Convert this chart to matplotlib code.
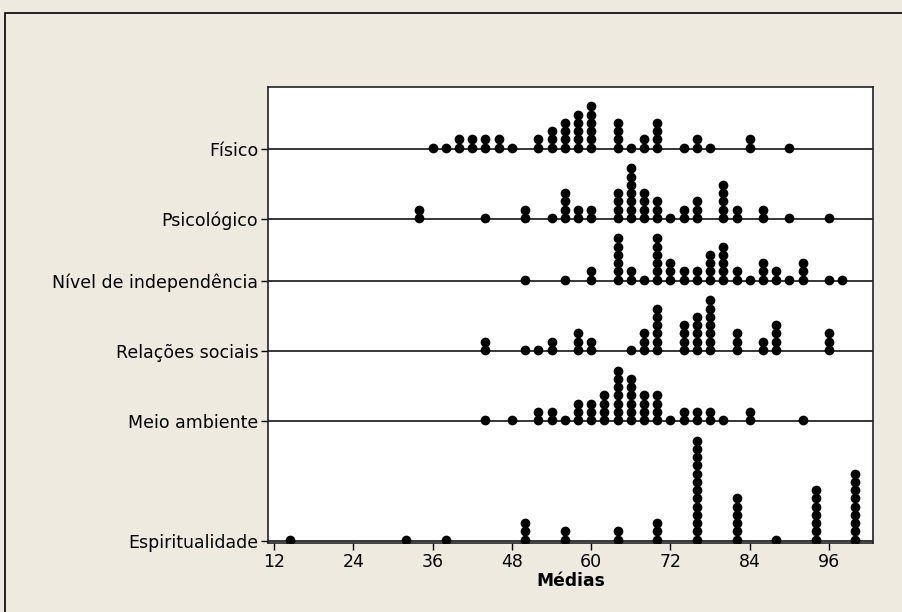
import numpy as np
import matplotlib.pyplot as plt
from matplotlib.patches import Rectangle

# dotplot of the domain means: value bins and how many dots are stacked on each
groups = ['Físico', 'Psicológico', 'Nível de independência',
          'Relações sociais', 'Meio ambiente', 'Espiritualidade']

fisico_x = [36, 38, 40, 42, 44, 46, 48, 52, 54, 56, 58, 60, 64, 66, 68, 70, 74, 76, 78, 84, 90]
fisico_n = [1, 1, 2, 2, 2, 2, 1, 2, 3, 4, 5, 6, 4, 1, 2, 4, 1, 2, 1, 2, 1]

psico_x = [34, 44, 50, 54, 56, 58, 60, 64, 66, 68, 70, 72, 74, 76, 80, 82, 86, 90, 96]
psico_n = [2, 1, 2, 1, 4, 2, 2, 4, 7, 4, 3, 1, 2, 3, 5, 2, 2, 1, 1]

indep_x = [50, 56, 60, 64, 66, 68, 70, 72, 74, 76, 78, 80, 82, 84, 86, 88, 90, 92, 96, 98]
indep_n = [1, 1, 2, 6, 2, 1, 6, 3, 2, 2, 4, 5, 2, 1, 3, 2, 1, 3, 1, 1]

social_x = [44, 50, 52, 54, 58, 60, 66, 68, 70, 74, 76, 78, 82, 86, 88, 96]
social_n = [2, 1, 1, 2, 3, 2, 1, 3, 6, 4, 5, 7, 3, 2, 4, 3]

meio_x = [44, 48, 52, 54, 56, 58, 60, 62, 64, 66, 68, 70, 72, 74, 76, 78, 80, 84, 92]
meio_n = [1, 1, 2, 2, 1, 3, 3, 4, 7, 6, 4, 4, 1, 2, 2, 2, 1, 2, 1]

espir_x = [14.4, 32, 38, 50, 56, 64, 70, 76, 82, 88, 94, 100]
espir_n = [1, 1, 1, 3, 2, 2, 3, 13, 6, 1, 7, 9]

series = [(fisico_x, fisico_n), (psico_x, psico_n), (indep_x, indep_n),
          (social_x, social_n), (meio_x, meio_n), (espir_x, espir_n)]

xticks = [12, 24, 36, 48, 60, 72, 84, 96]

bg = '#eeeae0'
plt.rcParams['font.family'] = ['DejaVu Sans']

fig = plt.figure(figsize=(9.03, 6.12), dpi=100, facecolor=bg)
# only the left and top edges of the frame show in the reference
fig.patches.append(Rectangle((5 / 903, -0.05), 1.1, 1.05 - 13 / 612, transform=fig.transFigure,
                             fill=False, edgecolor='black', linewidth=1.2))
ax = fig.add_axes([268 / 903, 1 - 543 / 612, 605 / 903, 456 / 612])
ax.set_facecolor('white')

# rows are stacked from the bottom, each as tall as its tallest stack plus a gap
bases = []
b = 0.0
for xs, ns in reversed(series):
    bases.append(b)
    b += max(ns) + 1.5
bases = bases[::-1]
top = b

for (xs, ns), base in zip(series, bases):
    px, py = [], []
    for v, n in zip(xs, ns):
        for k in range(n):
            px.append(v)
            py.append(base + 0.15 + k)
    ax.axhline(base, color='black', linewidth=1.1, zorder=1)
    ax.plot(px, py, 'o', color='black', markersize=7, markeredgewidth=0, zorder=3)

ax.set_xlim(11.1, 102.65)
ax.set_ylim(-0.25, top)
ax.set_xticks(xticks)
ax.set_yticks(bases)
ax.set_yticklabels(groups)
ax.tick_params(axis='both', direction='out', length=5, width=1, labelsize=12.5, pad=2)
ax.set_xlabel('Médias', fontsize=12.3, fontweight='bold', labelpad=1)
for s in ax.spines.values():
    s.set_color('#222222')
    s.set_linewidth(1.2)

fig.savefig('out.png', dpi=100, facecolor=bg)
